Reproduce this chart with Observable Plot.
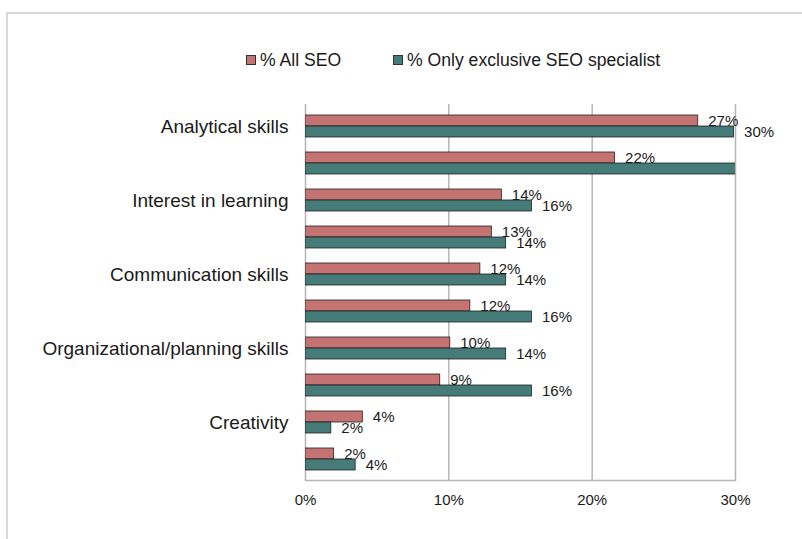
<!DOCTYPE html>
<html><head><meta charset="utf-8">
<script src="https://cdn.jsdelivr.net/npm/d3@7"></script>
<script src="https://cdn.jsdelivr.net/npm/@observablehq/plot@0.6"></script>
<style>
body{margin:0;background:#fff;font-family:"Liberation Sans",Arial,sans-serif;}
#wrap{position:relative;width:802px;height:539px;overflow:hidden;background:#fff;}
#frame{position:absolute;left:6px;top:12px;width:900px;height:700px;border:2px solid #d9d9d9;box-sizing:border-box;}
.item{position:absolute;top:50px;font-size:17.6px;line-height:20px;color:#1a1a1a;display:flex;align-items:center;white-space:nowrap;}
.sw{display:inline-block;width:8px;height:8px;border:1px solid #333;margin-right:4px;}
#chart{position:absolute;left:0;top:0;}
</style></head>
<body>
<div id="wrap">
  <div id="frame"></div>
  <div id="chart"></div>
</div>
<script>
const categories = ["Analytical skills", "", "Interest in learning", "", "Communication skills", "", "Organizational/planning skills", "", "Creativity", ""];
const allSeo = [27.4, 21.6, 13.7, 13.0, 12.2, 11.5, 10.1, 9.4, 4.0, 2.0];
const specialist = [29.9, 31.5, 15.8, 14.0, 14.0, 15.8, 14.0, 15.8, 1.8, 3.5];
const seriesNames = ["% All SEO", "% Only exclusive SEO specialist"];
const xTicks = [0, 10, 20, 30];

const pink = "#c47372";
const teal = "#457b79";
const rows = categories.map((c, i) => ({i, allSeo: allSeo[i], spec: specialist[i]}));

const wrap = document.getElementById("wrap");
[[seriesNames[0], pink, 246], [seriesNames[1], teal, 393]].forEach(([name, col, left]) => {
  const it = document.createElement("div");
  it.className = "item";
  it.style.left = left + "px";
  const sw = document.createElement("span");
  sw.className = "sw";
  sw.style.background = col;
  it.appendChild(sw);
  it.appendChild(document.createTextNode(name));
  wrap.appendChild(it);
});

const chart = Plot.plot({
  width: 802,
  height: 539,
  marginLeft: 305,
  marginRight: 67,
  marginTop: 104,
  marginBottom: 59,
  style: {fontFamily: "Liberation Sans, Arial, sans-serif", background: "transparent", color: "#1a1a1a"},
  x: {domain: [0, 30]},
  y: {type: "band", domain: d3.range(categories.length), paddingInner: 0.415, paddingOuter: 0.2075},
  marks: [
    Plot.ruleX(xTicks, {stroke: "#b5b5b5", strokeWidth: 1.5}),
    Plot.frame({anchor: "bottom", stroke: "#b5b5b5", strokeWidth: 1.5}),
    Plot.barX(rows, {x: "allSeo", y: "i", fill: pink, stroke: "#222", strokeWidth: 0.8, insetBottom: 11, clip: true}),
    Plot.barX(rows, {x: "spec", y: "i", fill: teal, stroke: "#222", strokeWidth: 0.8, insetTop: 11, clip: true}),
    Plot.text(rows, {x: "allSeo", y: "i", text: d => Math.round(d.allSeo) + "%", dx: 10, dy: -5.5, textAnchor: "start", fontSize: 15, fill: "#1a1a1a"}),
    Plot.text(rows.filter(d => d.spec <= 30), {x: "spec", y: "i", text: d => Math.round(d.spec) + "%", dx: 10, dy: 5.5, textAnchor: "start", fontSize: 15, fill: "#1a1a1a"}),
    Plot.axisY({tickSize: 0, tickPadding: 17, fontSize: 19, tickFormat: i => categories[i], label: null}),
    Plot.axisX({ticks: xTicks, tickSize: 0, tickPadding: 14, fontSize: 15, tickFormat: d => d + "%", label: null})
  ]
});
document.getElementById("chart").appendChild(chart);
</script>
</body></html>
